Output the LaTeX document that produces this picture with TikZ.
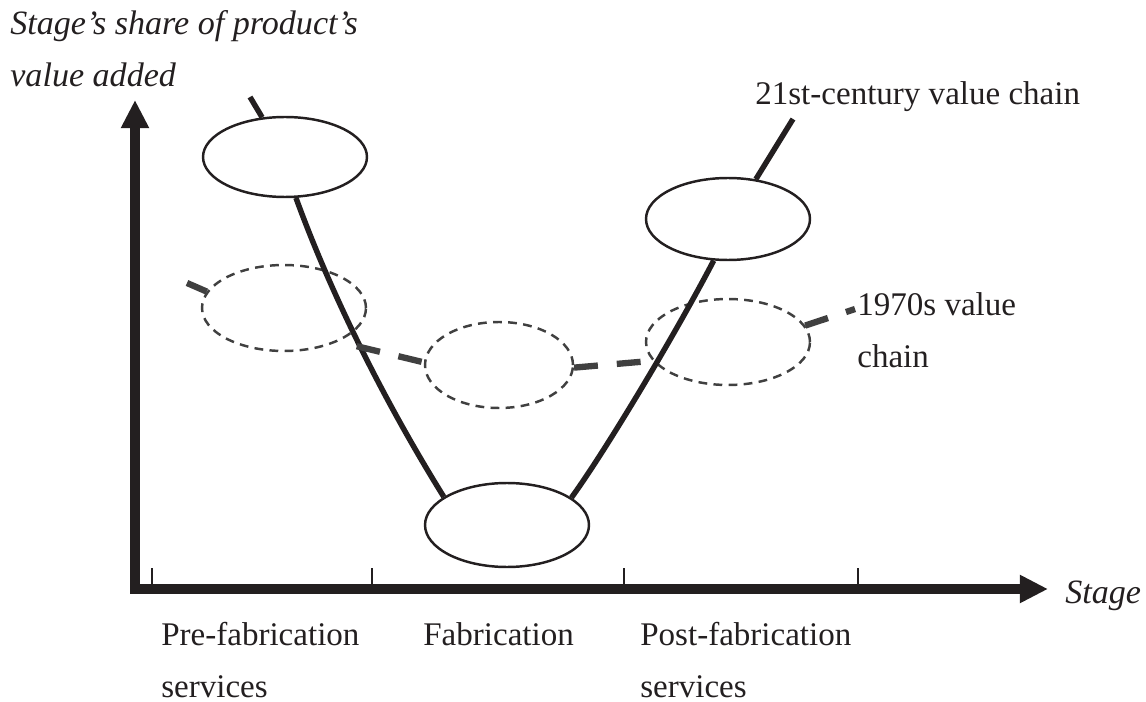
\documentclass[tikz,border=0pt]{standalone}
\usepackage{fontspec}
\setmainfont{Liberation Serif}
\usetikzlibrary{arrows.meta,shapes.geometric}
\definecolor{ink}{HTML}{231F20}
\definecolor{inkgray}{HTML}{404040}

\begin{document}
\begin{tikzpicture}[x=0.02cm,y=-0.02cm,
  txt/.style={anchor=base west,inner sep=0pt,text=ink,font=\fontsize{18.8}{22}\selectfont},
  itxt/.style={txt,font=\fontsize{19.4}{22}\selectfont\itshape},
  stage/.style={ellipse,draw=ink,line width=1.4pt,inner sep=0pt,minimum width=3.28cm},
  oldstage/.style={ellipse,draw=inkgray,line width=1.4pt,dash pattern=on 5pt off 3.6pt,
    inner sep=0pt,minimum width=3.28cm,minimum height=1.72cm},
  newchain/.style={draw=ink,line width=3.1pt},
  oldchain/.style={draw=inkgray,line width=3.6pt,dash pattern=on 13.6pt off 10.8pt}]
  \useasboundingbox (0,0) rectangle (1146,702);
  % axes
  \coordinate (O) at (135,589);
  \coordinate (Y) at (135,100);
  \coordinate (X) at (1048,589);
  \foreach \x in {152,372,624,858} {
    \draw[draw=ink,line width=1.1pt] (\x,589) -- (\x,568);
  }
  \draw[draw=ink,line width=5.2pt,line join=miter,
    {Triangle[length=16pt,width=15pt]}-{Triangle[length=16pt,width=15pt]}] (Y) |- (X);
  % stages
  \node[stage,minimum height=1.60cm] (P1) at (285,157) {};
  \node[stage,minimum height=1.68cm] (F1) at (507,525) {};
  \node[stage,minimum height=1.64cm] (S1) at (728,219) {};
  \node[oldstage] (P0) at (284,308) {};
  \node[oldstage,minimum width=2.96cm] (F0) at (499,365) {};
  \node[oldstage] (S0) at (728,342) {};
  % 21st-century chain
  \coordinate (A) at (250,97);
  \coordinate (B) at (793,119);
  \draw[newchain] (A) -- (P1.120);
  \draw[newchain] (P1.-75) .. controls (335,305) and (391,412) .. (F1.156);
  \draw[newchain] (F1.23) .. controls (606,450) and (676,333) .. (S1.-109);
  \draw[newchain] (S1.55) -- (B);
  % 1970s chain
  \coordinate (C) at (187,283);
  \coordinate (D) at (855,309);
  \draw[oldchain] (C) -- (P0.168);
  \draw[oldchain,shorten <=11pt] (P0.-32) -- (F0.178);
  \draw[oldchain] (F0.-2) -- (S0.-166);
  \draw[oldchain] (S0.12) -- (D);
  % labels
  \node[itxt] (ylab1) at (10,35) {Stage’s share of product’s};
  \node[itxt] (ylab2) at (10,87) {value added};
  \node[itxt] (xlab) at (1065,603) {Stage};
  \node[txt] (newlab) at (755,105) {21st-century value chain};
  \node[txt] (oldlab1) at (857,316) {1970s value};
  \node[txt] (oldlab2) at (857,368) {chain};
  \node[txt] (pre1) at (161,645) {Pre-fabrication};
  \node[txt] (pre2) at (161,697) {services};
  \node[txt] (fab) at (423,645) {Fabrication};
  \node[txt] (post1) at (640,645) {Post-fabrication};
  \node[txt] (post2) at (640,697) {services};
\end{tikzpicture}
\end{document}
